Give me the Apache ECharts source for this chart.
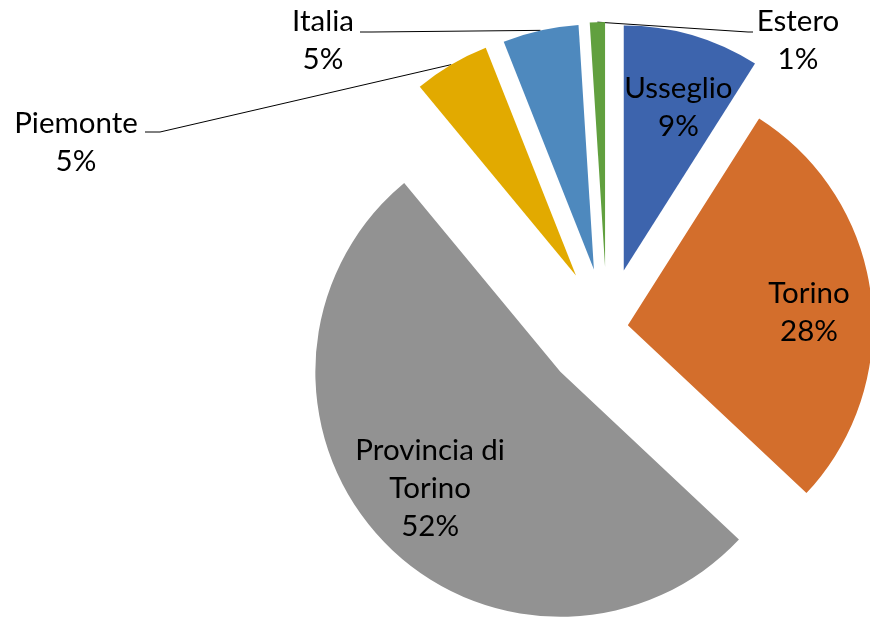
<!doctype html>
<meta charset="utf-8">
<style>
  html, body { margin: 0; padding: 0; width: 100%; height: 100%; background: #fff; }
  #chart { width: 870px; height: 619px; }
</style>
<script src="https://cdn.jsdelivr.net/npm/echarts@6/dist/echarts.min.js"></script>

<div id="chart"></div>

<script>
  const names = ['Usseglio', 'Torino', 'Provincia di Torino', 'Piemonte', 'Italia', 'Estero'];
  const values = [9, 28, 52, 5, 5, 1];
  const colors = ['#3d64ad', '#d36e2c', '#929292', '#e2aa00', '#4e89be', '#61a03f'];
  const explode = [60, 21, 64, 61, 60, 61];
  const insideLabel = [true, true, true, false, false, false];
  // small shifts for the inside labels
  const nudge = [[6, 5], [8, 9], [-3, -3], [0, 0], [0, 0], [0, 0]];
  // outside labels: centre of the text block, leader line bend and end
  const outside = {
    Piemonte: { pos: [76, 142], bend: [160, 132], end: [145, 132] },
    Italia: { pos: [323, 40], bend: [372, 32], end: [360, 32] },
    Estero: { pos: [798, 40], bend: [748, 32], end: [753, 32] }
  };
  const CX = 607, CY = 328, R = 245;
  const FONT = 'Lato';

  let chart = echarts.init(document.getElementById('chart'));

  const total = values.reduce((a, b) => a + b, 0);
  let acc = 0;
  const centers = values.map((v, i) => {
    const mid = (acc + v / 2) / total * 2 * Math.PI;
    acc += v;
    return [CX + explode[i] * Math.sin(mid), CY - explode[i] * Math.cos(mid), mid];
  });

  const fmt = p => p.name.replace(' di ', ' di\n') + '\n' + Math.round(p.percent) + '%';
  const labelStyle = { color: '#000', fontFamily: FONT, fontSize: 29.5, lineHeight: 38, formatter: fmt };

  let series = [];
  values.forEach((v, i) => {
    const c = centers[i];
    // the slice itself (plus outside label when needed)
    series.push({
      type: 'pie',
      center: [c[0], c[1]],
      radius: [0, R],
      startAngle: 90,
      clockwise: true,
      silent: true,
      animation: false,
      avoidLabelOverlap: false,
      itemStyle: { borderWidth: 0 },
      label: Object.assign({ position: 'outside' }, labelStyle),
      labelLine: { lineStyle: { color: '#000', width: 1 } },
      labelLayout: function (p) {
        const o = outside[names[p.dataIndex]];
        if (!o) return;
        const anchor = [c[0] + R * Math.sin(c[2]), c[1] - R * Math.cos(c[2])];
        return {
          x: o.pos[0], y: o.pos[1], align: 'center', verticalAlign: 'middle',
          labelLinePoints: [anchor, o.bend, o.end]
        };
      },
      data: values.map((w, j) => ({
        name: names[j],
        value: w,
        itemStyle: { color: j === i ? colors[i] : 'rgba(0,0,0,0)' },
        label: { show: j === i && !insideLabel[i] },
        labelLine: { show: j === i && !insideLabel[i] }
      }))
    });
    // transparent ring only used to place inside labels further out
    if (insideLabel[i]) {
      series.push({
        type: 'pie',
        center: [c[0], c[1]],
        radius: [R * 0.4, R],
        startAngle: 90,
        clockwise: true,
        silent: true,
        animation: false,
        avoidLabelOverlap: false,
        itemStyle: { borderWidth: 0, color: 'rgba(0,0,0,0)' },
        label: Object.assign({ position: 'inside' }, labelStyle),
        labelLine: { show: false },
        labelLayout: function () {
          return { dx: nudge[i][0], dy: nudge[i][1] };
        },
        data: values.map((w, j) => ({
          name: names[j],
          value: w,
          label: { show: j === i }
        }))
      });
    }
  });

  chart.setOption({
    backgroundColor: '#fff',
    series: series
  });
</script>
